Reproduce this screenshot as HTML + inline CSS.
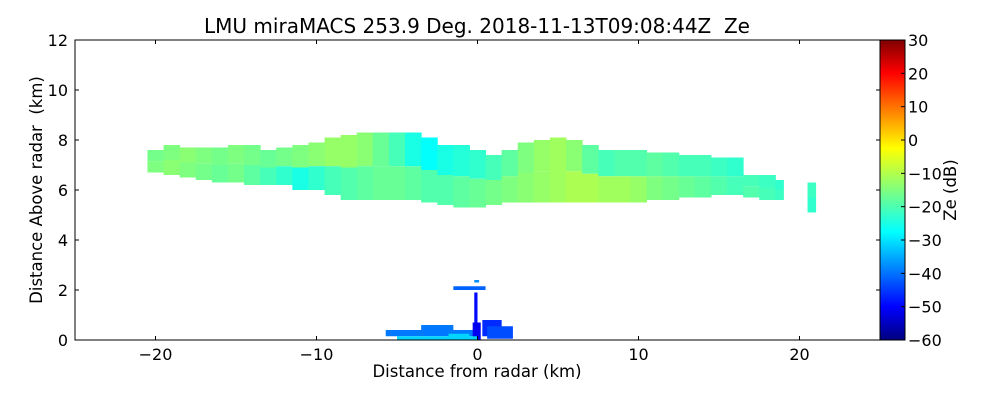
<!DOCTYPE html>
<html><head><meta charset="utf-8"><style>
body{margin:0;background:#fff;font-family:"DejaVu Sans",sans-serif;}
svg text{font-family:"DejaVu Sans","Liberation Sans",sans-serif;}
</style></head><body>
<svg id="c" width="1000" height="400" xmlns="http://www.w3.org/2000/svg">
<rect width="1000" height="400" fill="#fff"/>
<defs><linearGradient id="jet" x1="0" y1="1" x2="0" y2="0">
<stop offset="0" stop-color="#00007f"/><stop offset="0.11" stop-color="#0000ff"/><stop offset="0.36" stop-color="#00ffff"/><stop offset="0.5" stop-color="#7fff7f"/><stop offset="0.64" stop-color="#ffff00"/><stop offset="0.89" stop-color="#ff0000"/><stop offset="1" stop-color="#7f0000"/></linearGradient></defs>
<g id="marks"></g>
<g id="axes"></g>
</svg>
<script>
const colX=[-20,-19,-18,-17,-16,-15,-14,-13,-12,-11,-10,-9,-8,-7,-6,-5,-4,-3,-2,-1,0,1,2,3,4,5,6,7,8,9,10,11,12,13,14,15,16,17,18,19,21];
const colBase=[6.7,6.6,6.5,6.4,6.3,6.3,6.2,6.2,6.2,6.0,6.0,5.8,5.6,5.6,5.6,5.6,5.6,5.5,5.4,5.3,5.3,5.4,5.5,5.5,5.5,5.5,5.5,5.5,5.5,5.5,5.5,5.6,5.6,5.7,5.7,5.8,5.8,5.7,5.6,5.6,5.1];
const colTop=[7.6,7.8,7.7,7.7,7.7,7.8,7.8,7.6,7.7,7.8,7.9,8.1,8.2,8.3,8.3,8.3,8.3,8.1,7.8,7.8,7.6,7.4,7.6,7.9,8.0,8.1,8.0,7.8,7.6,7.6,7.6,7.5,7.5,7.4,7.4,7.3,7.3,6.6,6.6,6.4,6.3];
const upperDb=[-16,-15,-14,-15,-16,-15,-16,-17,-16,-15,-14,-13,-13,-14,-17,-20,-24,-26,-24,-23,-22,-20,-18,-15,-13,-12,-14,-18,-20,-19,-19,-18,-19,-20,-20,-21,-22,-20,-21,-22,-21];
const lowerDb=[-15,-14,-15,-16,-17,-16,-18,-20,-22,-24,-22,-20,-19,-18,-17,-17,-18,-19,-19,-18,-17,-16,-15,-14,-13,-12,-11,-11,-12,-12,-13,-15,-16,-17,-18,-19,-20,-19,-20,-21,-22];
// clutter patches: x0,x1,y0,y1,dB
const clX0=[-5.7,-3.5,-1.8,-0.2,-0.3,0.3,0.6,-1.5,-0.2,-5.0];
const clX1=[-0.2,-1.5,-0.5,0.0,0.2,1.5,2.2,0.5,0.1,0.0];
const clY0=[0.15,0.35,0.0,0.6,0.0,0.15,0.05,2.0,2.3,0.0];
const clY1=[0.4,0.6,0.25,1.9,0.7,0.8,0.55,2.15,2.4,0.15];
const clDb=[-38,-38,-30,-48,-50,-45,-42,-40,-36,-30];
const xTicks=[-20,-10,0,10,20], yTicks=[0,2,4,6,8,10,12], cTicks=[-60,-50,-40,-30,-20,-10,0,10,20,30];
const L=75,R=880,T=40,B=340;
const sx=v=>L+(v+25)*(R-L)/50, sy=v=>B-v*(B-T)/12, cy=v=>B-(v+60)*(B-T)/90;
const NS="http://www.w3.org/2000/svg";
function jet(d){let t=(d+60)/90;t=Math.max(0,Math.min(1,t));
 const r=Math.max(0,Math.min(1,1.5-Math.abs(4*t-3))),g=Math.max(0,Math.min(1,1.5-Math.abs(4*t-2))),b=Math.max(0,Math.min(1,1.5-Math.abs(4*t-1)));
 return `rgb(${r*255|0},${g*255|0},${b*255|0})`;}
function el(tag,a,p){const e=document.createElementNS(NS,tag);for(const k in a)e.setAttribute(k,a[k]);p.appendChild(e);return e;}
const M=document.getElementById('marks'),A=document.getElementById('axes');
colX.forEach((x,i)=>{const mid=(colBase[i]+colTop[i])/2,w=(i<colX.length-1&&colX[i+1]-x==1)?1:0.5;
 const r1=el('rect',{x:sx(x-0.5),y:sy(colTop[i]),width:sx(x-0.5+w)-sx(x-0.5)+0.5,height:sy(mid)-sy(colTop[i]),fill:jet(upperDb[i])},M);
 
 
 const r2=el('rect',{x:sx(x-0.5),y:sy(mid),width:sx(x-0.5+w)-sx(x-0.5)+0.5,height:sy(colBase[i])-sy(mid),fill:jet(lowerDb[i])},M);
 
 });
clX0.forEach((x,i)=>{const r=el('rect',{x:sx(x),y:sy(clY1[i]),width:sx(clX1[i])-sx(x),height:sy(clY0[i])-sy(clY1[i]),fill:jet(clDb[i])},M);
 
 });
el('rect',{x:L,y:T,width:R-L,height:B-T,fill:'none',stroke:'#000','stroke-width':1},A);
function txt(s,x,y,anc,size,extra){const t=el('text',Object.assign({x:x,y:y,'text-anchor':anc,'font-size':size},extra||{}),A);t.textContent=s;return t;}
xTicks.forEach(v=>{const x=sx(v);el('line',{x1:x,x2:x,y1:B,y2:B-4,stroke:'#000'},A);el('line',{x1:x,x2:x,y1:T,y2:T+4,stroke:'#000'},A);
 const t=txt(v<0?'\u2212'+(-v):String(v),x,B+20,'middle',16);});
yTicks.forEach(v=>{const y=sy(v);el('line',{x1:L,x2:L+4,y1:y,y2:y,stroke:'#000'},A);el('line',{x1:R,x2:R-4,y1:y,y2:y,stroke:'#000'},A);
 const t=txt(String(v),L-7,y+6,'end',16);});
const cb=el('rect',{x:880,y:T,width:25,height:B-T,fill:'url(#jet)',stroke:'#000'},A);


cTicks.forEach(v=>{const y=cy(v);el('line',{x1:905,x2:901,y1:y,y2:y,stroke:'#000'},A);
 const t=txt(v<0?'\u2212'+(-v):String(v),908,y+6,'start',16);});
let t=txt('LMU miraMACS 253.9 Deg. 2018-11-13T09:08:44Z\u00a0\u00a0Ze',477,33,'middle',20);
t=txt('Distance from radar (km)',477,377,'middle',16.5);
t=txt('Distance Above radar\u00a0\u00a0(km)',0,0,'middle',16.5,{transform:'translate(42,190) rotate(-90)'});
t=txt('Ze (dB)',0,0,'middle',16.5,{transform:'translate(956,190) rotate(-90)'});
</script>
</body></html>
